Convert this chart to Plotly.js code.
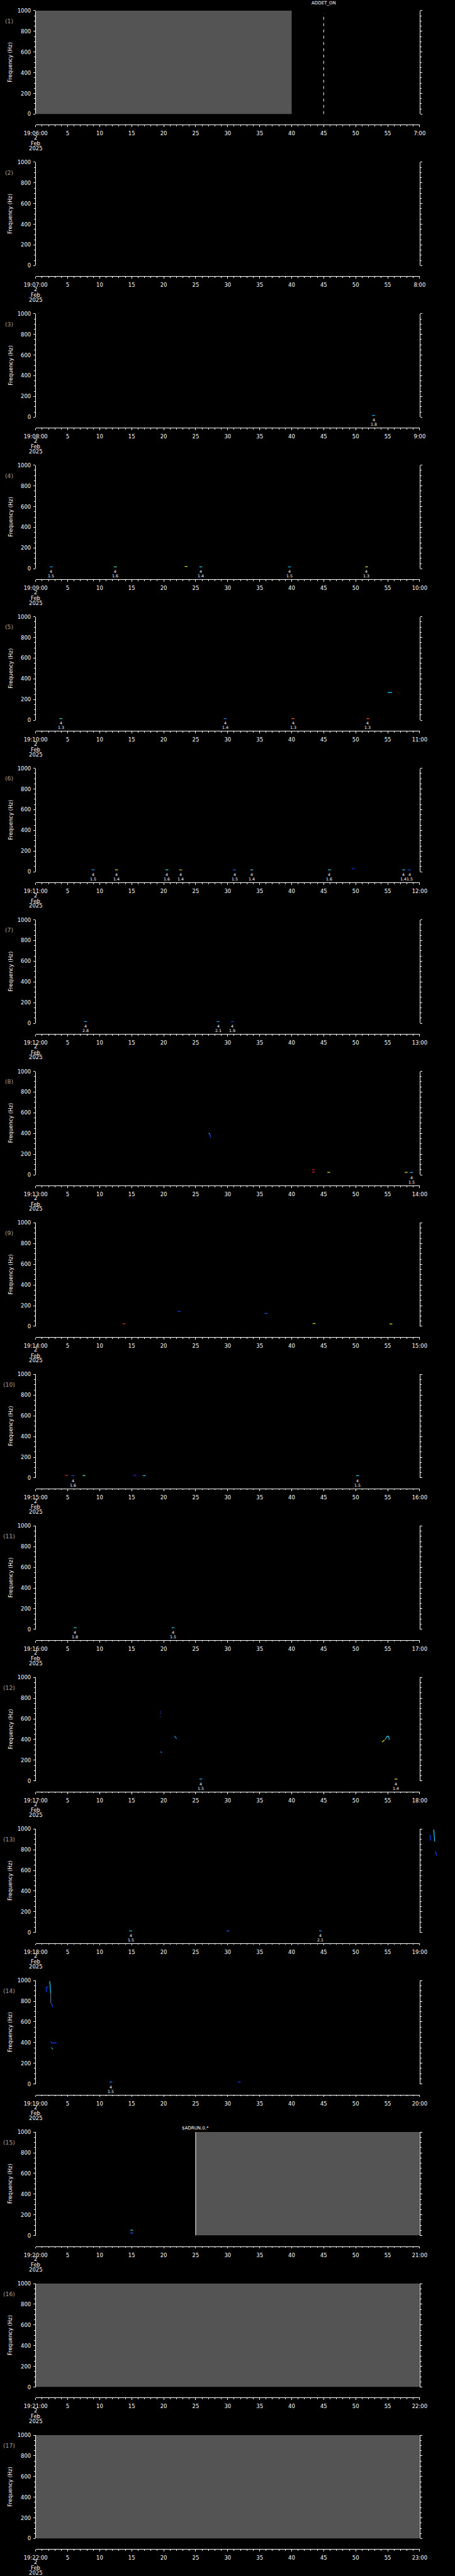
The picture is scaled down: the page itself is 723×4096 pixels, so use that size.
<!DOCTYPE html>
<html><head><meta charset="utf-8">
<script src="https://cdn.plot.ly/plotly-3.0.1.min.js"></script>
<style>html,body{margin:0;padding:0;background:#000;overflow:hidden;}</style>
</head><body><div id="chart" style="width:723px;height:4096px;"></div>
<script>
// ---------------- DATA ----------------
const panelStartLabels = ['19:06:00','19:07:00','19:08:00','19:09:00','19:10:00','19:11:00','19:12:00','19:13:00','19:14:00','19:15:00','19:16:00','19:17:00','19:18:00','19:19:00','19:20:00','19:21:00','19:22:00'];
const panelEndLabels = ['7:00','8:00','9:00','10:00','11:00','12:00','13:00','14:00','15:00','16:00','17:00','18:00','19:00','20:00','21:00','22:00','23:00'];
const panelNames = ['(1)','(2)','(3)','(4)','(5)','(6)','(7)','(8)','(9)','(10)','(11)','(12)','(13)','(14)','(15)','(16)','(17)'];
const xTickSeconds = [0,5,10,15,20,25,30,35,40,45,50,55,60];
const xMidTickLabels = ['5','10','15','20','25','30','35','40','45','50','55'];
const yTickValues = [0,200,400,600,800,1000];
const dateLines = ['2','Feb','2025'];
const yTitle = 'Frequency (Hz)';

// grey "no data" blocks (panel, start s, end s)
const grayPanel = [1,15,16,17];
const grayStart = [0,25,0,0];
const grayEnd   = [40,60,60,60];

// event markers (vertical lines with a label)
const markerPanel = [1,15];
const markerTime  = [45,25];
const markerText  = ['ADDET_ON','$ADRUN,0,*'];

// detected short events near the bottom of each panel
const eventPanel  = [3, 4,4,4,4,4,4, 5,5,5,5, 6,6,6,6,6,6,6,6,6,6, 7,7,7, 8,8,8,8,8, 9,9,9,9,9, 10,10,10,10,10,10, 11,11, 12,12, 13,13,13, 14,14, 15,15];
const eventTime   = [52.8, 2.43,12.45,23.5,25.8,39.65,51.7, 3.93,29.6,40.2,51.9, 8.98,12.64,20.5,22.66,31.06,33.76,45.9,49.6,57.5,58.4, 7.78,28.5,30.75, 43.4,43.4,45.8,57.9,58.7, 13.8,22.4,36.0,43.5,55.5, 4.8,5.8,7.55,15.5,16.96,50.3, 6.17,21.46, 25.8,56.3, 14.84,30.06,44.5, 11.75,31.8, 15.0,15.0];
const eventFreq   = [16, 18,18,22,18,18,18, 16,16,16,16, 18,18,18,18,18,18,18,30,18,18, 16,16,16, 50,26,24,24,22, 25,144,125,27,23, 23,22,23,23,22,22, 16,16, 18,18, 16,14,16, 18,18, 51,24];
const eventTop    = ['4', '4','4','','4','4','4', '4','4','4','4', '4','4','4','4','4','4','4','','4','4', '4','4','4', '','','','','4', '','','','','', '','4','','','','4', '4','4', '4','4', '4','','4', '4','', '',''];
const eventBottom = ['1.8', '1.5','1.6','','1.4','1.5','1.3', '1.3','1.4','1.3','1.3', '1.5','1.4','1.6','1.4','1.5','1.4','1.6','','1.4','1.5', '2.8','2.1','1.9', '','','','','1.5', '','','','','', '','1.6','','','','1.5', '1.8','1.5', '1.5','1.4', '1.5','','2.1', '1.5','', '',''];
const eventColor  = ['#00b4ff', '#00a0ff','#40e0c0','#e0e000','#20d0e0','#00c0ff','#c0e040', '#40e0a0','#2080ff','#ff6020','#ff5020', '#20a0ff','#e0d020','#20e0d0','#f0c000','#1060ff','#40d0f0','#20d0f0','#0030ff','#20c0f0','#1040ff', '#10b0f0','#20a0f0','#1040ff', '#e02020','#ff2040','#e0e000','#f0e000','#20c0ff', '#e03030','#2040ff','#1060ff','#f0e000','#e0e000', '#ff2020','#2040ff','#40f080','#6000ff','#20c0f0','#20d0ff', '#20d0e0','#20c0e0', '#20b0ff','#f0f000', '#20d0e0','#1060ff','#2080ff', '#1080ff','#1040ff', '#20c0ff','#2060ff'];

// spectral traces (polylines, time s / frequency Hz)
const blobPanel = [5, 8,8, 12,12,12,12,12,12,12, 14,14,14,14,14,14,14];
const blobTimes = [[55.0,55.7], [27.05,27.2],[27.2,27.3,27.4], [19.5,19.6],[19.5,19.6],[19.5,19.6],[21.7,21.85,22.0],[19.5,19.7],[54.1,54.3,54.5],[54.6,54.9,55.05,55.15,55.25], [1.66,1.66],[1.8,2.0],[2.2,2.25,2.35],[2.35,2.35],[2.43,2.55,2.7],[2.35,2.5,3.3],[2.43,2.55,2.7]];
const blobFreqs = [[268,268], [403,395],[395,370,359], [673,673],[654,654],[622,622],[435,420,408],[284,272],[375,385,395],[400,430,432,430,397], [943,887],[935,935],[995,960,879],[879,782],[782,760,742],[411,395,398],[353,345,336]];
const blobColor = ['#00e0ff', '#20d0ff','#1040ff', '#1040ff','#2060ff','#1040ff','#20a0ff','#1080ff','#f0f000','#20d0f0', '#1040ff','#1060ff','#20d0ff','#607080','#1040ff','#1040ff','#40c0a0'];

// spectral trace of panel 13 that runs past its right edge (seconds after 19:18:00)
const overflowPanel = [13,13,13];
const overflowTimes = [[61.66,61.66],[62.2,62.25,62.35],[62.43,62.55,62.7]];
const overflowFreqs = [[943,887],[995,960,879],[782,760,742]];
const overflowColor = ['#1040ff','#20d0ff','#1040ff'];

// ---------------- LAYOUT ----------------
const S = 0.705, REF_W = 1024, REF_H = 5802, NP = 17, PANEL_H = REF_H / NP;
const X0 = 80.3, X1 = 944.5, PLOT_TOP = 24, PLOT_H = 233, XAXIS_OFF = 257;
const FONT = 'DejaVu Sans, Liberation Sans, sans-serif';
const fy = r => 1 - r / REF_H;
const fx = r => r / REF_W;
const panelTop = i => PLOT_TOP + (i - 1) * PANEL_H;
const ax = (p, i) => p + (i === 1 ? '' : i);

const layout = {
  width: 723, height: 4096,
  margin: {l: 0, r: 0, t: 0, b: 0, pad: 0},
  paper_bgcolor: '#000', plot_bgcolor: 'rgba(0,0,0,0)',
  showlegend: false, hovermode: false,
  annotations: []
};
const traces = [];

for (let i = 1; i <= NP; i++) {
  const top = panelTop(i);
  layout[ax('xaxis', i)] = {
    domain: [fx(X0), fx(X1)], range: [0, 60], anchor: 'free', position: fy(top + XAXIS_OFF),
    showline: true, linecolor: '#fff', linewidth: 1, mirror: false,
    ticks: 'outside', ticklen: 4 * S, tickwidth: 1, tickcolor: '#fff',
    tickmode: 'array', tickvals: xTickSeconds,
    ticktext: [panelStartLabels[i - 1]].concat(xMidTickLabels, [panelEndLabels[i - 1]]),
    tickfont: {family: FONT, size: 12 * S, color: '#fff'}, ticklabelstandoff: 3,
    minor: {tickmode: 'linear', tick0: 0, dtick: 1, ticks: 'outside', ticklen: 2.3 * S, tickwidth: 1, tickcolor: '#fff', showgrid: false},
    showgrid: false, zeroline: false, fixedrange: true
  };
  layout[ax('yaxis', i)] = {
    domain: [fy(top + PLOT_H), fy(top)], range: [0, 1000], anchor: ax('x', i),
    showline: true, mirror: 'ticks', linecolor: '#fff', linewidth: 1,
    ticks: 'outside', ticklen: 4 * S, tickwidth: 1, tickcolor: '#fff',
    tickmode: 'array', tickvals: yTickValues,
    tickfont: {family: FONT, size: 12 * S, color: '#fff'}, ticklabelstandoff: 2,
    minor: {tickmode: 'linear', tick0: 0, dtick: 50, ticks: 'outside', ticklen: 2.5 * S, tickwidth: 1, tickcolor: '#fff', showgrid: false},
    showgrid: false, zeroline: false, fixedrange: true
  };
  traces.push({x: [], y: [], type: 'scatter', mode: 'lines', xaxis: ax('x', i), yaxis: ax('y', i), hoverinfo: 'skip'});

  layout.annotations.push({text: panelNames[i - 1], xref: 'paper', yref: 'paper', x: fx(21), y: fy(top + 23),
    xanchor: 'center', yanchor: 'middle', showarrow: false, font: {family: FONT, size: 13 * S, color: '#a0a0a0'}});
  layout.annotations.push({text: yTitle, xref: 'paper', yref: 'paper', x: fx(23.5), y: fy(top + PLOT_H / 2),
    xanchor: 'center', yanchor: 'middle', textangle: -90, showarrow: false, font: {family: FONT, size: 12 * S, color: '#fff'}});
  const dateOff = [286, 299, 310];
  dateLines.forEach((t, k) => layout.annotations.push({text: t, xref: ax('x', i), yref: 'paper', x: 0, y: fy(top + dateOff[k]),
    xanchor: 'center', yanchor: 'middle', showarrow: false, font: {family: FONT, size: 12 * S, color: '#fff'}}));
}

// unclipped overlay for panel 13 (same scale, extended to 65 s, hidden axes)
const OV = NP + 1, ovTop = panelTop(13);
layout[ax('xaxis', OV)] = {domain: [fx(X0), fx(X0 + (X1 - X0) * 65 / 60)], range: [0, 65], anchor: ax('y', OV), visible: false, fixedrange: true};
layout[ax('yaxis', OV)] = {domain: [fy(ovTop + PLOT_H), fy(ovTop)], range: [0, 1000], anchor: ax('x', OV), visible: false, fixedrange: true};
overflowPanel.forEach((p, k) => {
  traces.push({type: 'scatter', mode: 'lines', xaxis: ax('x', OV), yaxis: ax('y', OV), hoverinfo: 'skip',
    x: overflowTimes[k], y: overflowFreqs[k], line: {color: overflowColor[k], width: 1.2}});
});

// grey blocks
grayPanel.forEach((p, k) => {
  traces.push({type: 'scatter', mode: 'lines', xaxis: ax('x', p), yaxis: ax('y', p), hoverinfo: 'skip',
    x: [grayStart[k], grayEnd[k], grayEnd[k], grayStart[k], grayStart[k]], y: [0, 0, 1000, 1000, 0],
    fill: 'toself', fillcolor: '#545454', line: {width: 0, color: '#545454'}});
});

// markers
const markerLabelOff = [-18, -9];
const markerLineTop = [974, 1000];
const markerDash = ['4.5px,5.5px', 'solid'];
markerPanel.forEach((p, k) => {
  traces.push({type: 'scatter', mode: 'lines', xaxis: ax('x', p), yaxis: ax('y', p), hoverinfo: 'skip',
    x: [markerTime[k], markerTime[k]], y: [0, markerLineTop[k]], line: {color: '#fff', width: 1, dash: markerDash[k]}});
  layout.annotations.push({text: markerText[k], xref: ax('x', p), yref: 'paper', x: markerTime[k], y: fy(panelTop(p) + markerLabelOff[k]),
    xanchor: 'center', yanchor: 'middle', showarrow: false, font: {family: FONT, size: 10 * S, color: '#fff'}});
});

// events
eventPanel.forEach((p, k) => {
  const t = eventTime[k];
  traces.push({type: 'scatter', mode: 'lines', xaxis: ax('x', p), yaxis: ax('y', p), hoverinfo: 'skip',
    x: [t - 0.22, t + 0.22], y: [eventFreq[k], eventFreq[k]], line: {color: eventColor[k], width: 1.2}});
  const bottom = panelTop(p) + PLOT_H;
  if (eventTop[k]) layout.annotations.push({text: eventTop[k], xref: ax('x', p), yref: 'paper', x: t, y: fy(bottom + 6.5),
    xanchor: 'center', yanchor: 'middle', showarrow: false, font: {family: FONT, size: 9 * S, color: '#fff'}});
  if (eventBottom[k]) layout.annotations.push({text: eventBottom[k], xref: ax('x', p), yref: 'paper', x: t, y: fy(bottom + 16.5),
    xanchor: 'center', yanchor: 'middle', showarrow: false, font: {family: FONT, size: 9 * S, color: '#fff'}});
});

// spectral blobs
blobPanel.forEach((p, k) => {
  traces.push({type: 'scatter', mode: 'lines', xaxis: ax('x', p), yaxis: ax('y', p), hoverinfo: 'skip',
    x: blobTimes[k], y: blobFreqs[k], line: {color: blobColor[k], width: 1.2}});
});

Plotly.newPlot('chart', traces, layout, {staticPlot: true, displayModeBar: false});
</script></body></html>
